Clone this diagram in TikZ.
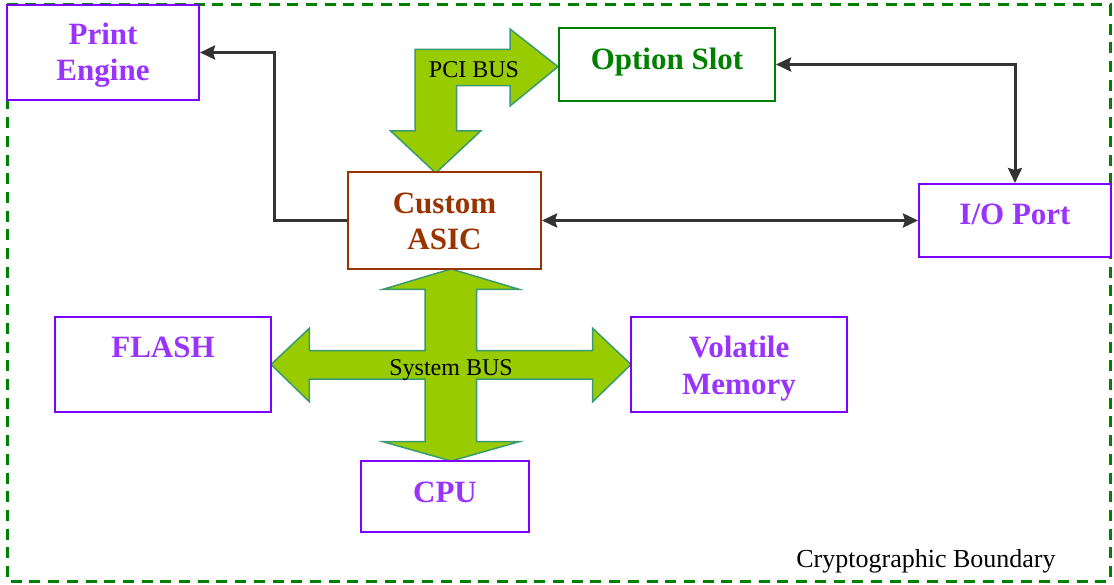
\documentclass[tikz,border=0pt]{standalone}
\usepackage{fontspec}
\setmainfont{Liberation Serif}
\usetikzlibrary{arrows.meta}
\definecolor{bdgreen}{HTML}{008000}
\definecolor{boxpurple}{HTML}{7F00FF}
\definecolor{txtpurple}{HTML}{9933FF}
\definecolor{asicbrown}{HTML}{993300}
\definecolor{busfill}{HTML}{99CC00}
\definecolor{busedge}{HTML}{3A9A70}
\definecolor{conncol}{HTML}{333333}
\begin{document}
\begin{tikzpicture}[x=1pt,y=-1pt,
  box/.style={draw, fill=white, line width=2pt, inner sep=0pt, rectangle},
  lbl/.style={font=\fontsize{31}{37}\selectfont\bfseries, anchor=base, inner sep=0pt},
  buslbl/.style={font=\fontsize{24}{28}\selectfont, anchor=base, inner sep=0pt, text=black},
  tipa/.tip={Stealth[length=15pt,width=14pt,inset=2pt]},
  conn/.style={draw=conncol, line width=3pt},
  bus/.style={fill=busfill, draw=busedge, line width=1.5pt, line join=miter},
  boundary/.style={draw=bdgreen, line width=3pt, dash pattern=on 11pt off 7.7pt}
]
\useasboundingbox (0,0) rectangle (1114,585);

% boundary
\draw[boundary] (7,5) rectangle (1110,581);
\node[font=\fontsize{26}{30}\selectfont, anchor=base, inner sep=0pt] (cb) at (926,567) {Cryptographic Boundary};

% buses
\draw[bus] (435.7,173) -- (480.7,131) -- (456.7,131) -- (456.7,85.7) -- (510,85.7)
  -- (510,106) -- (558,66.7) -- (510,29) -- (510,49.3) -- (415,49.3) -- (415,131)
  -- (390.7,131) -- cycle;
\node[buslbl] (pci) at (474,78) {PCI BUS};

\draw[bus] (451,269) -- (519,289.3) -- (476.7,289.3) -- (476.7,350.7) -- (592.7,350.7)
  -- (592.7,328.3) -- (631,364.5) -- (592.7,401.7) -- (592.7,379) -- (476.7,379)
  -- (476.7,441.7) -- (519,441.7) -- (451,461) -- (383,441.7) -- (425,441.7)
  -- (425,379) -- (309.3,379) -- (309.3,401.7) -- (271,364.5) -- (309.3,328.3)
  -- (309.3,350.7) -- (425,350.7) -- (425,289.3) -- (383,289.3) -- cycle;
\node[buslbl] (sys) at (451,375) {System BUS};

% boxes
\node[box, draw=boxpurple, minimum width=192pt, minimum height=95pt] (pe) at (103,52.5) {};
\node[box, draw=bdgreen, minimum width=216pt, minimum height=73pt] (os) at (667,64.5) {};
\node[box, draw=asicbrown, minimum width=193pt, minimum height=97pt] (asic) at (444.5,220.5) {};
\node[box, draw=boxpurple, minimum width=192pt, minimum height=73pt] (io) at (1015,220.5) {};
\node[box, draw=boxpurple, minimum width=216pt, minimum height=95pt] (flash) at (163,364.5) {};
\node[box, draw=boxpurple, minimum width=216pt, minimum height=95pt] (vm) at (739,364.5) {};
\node[box, draw=boxpurple, minimum width=168pt, minimum height=71pt] (cpu) at (445,496.5) {};

% labels
\node[lbl, text=txtpurple] (pe1) at (103,45) {Print};
\node[lbl, text=txtpurple] (pe2) at (103,81) {Engine};
\node[lbl, text=bdgreen] (os1) at (667,70) {Option Slot};
\node[lbl, text=asicbrown] (asic1) at (444.5,214) {Custom};
\node[lbl, text=asicbrown] (asic2) at (444.5,250) {ASIC};
\node[lbl, text=txtpurple] (io1) at (1015,225) {I/O Port};
\node[lbl, text=txtpurple] (fl1) at (163,358) {FLASH};
\node[lbl, text=txtpurple] (vm1) at (739,358) {Volatile};
\node[lbl, text=txtpurple] (vm2) at (739,394) {Memory};
\node[lbl, text=txtpurple] (cpu1) at (445,502) {CPU};

% connectors
\coordinate (bendpe) at (274,220.5);
\draw[conn, -tipa] (asic.west) -- (bendpe) |- (pe.east);
\draw[conn, tipa-tipa] (os.east) -| (io.north);
\draw[conn, tipa-tipa] (asic.east) -- (io.west);
\end{tikzpicture}
\end{document}
